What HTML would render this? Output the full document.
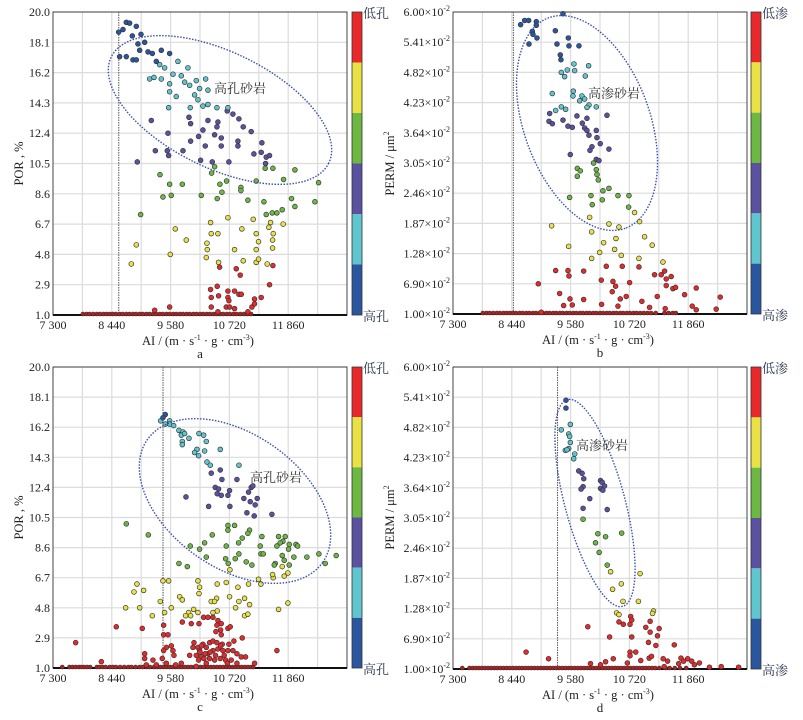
<!DOCTYPE html>
<html><head><meta charset="utf-8">
<style>
html,body{margin:0;padding:0;background:#fff;}
svg{display:block;font-family:"Liberation Serif","Noto Serif CJK SC",serif;}
</style></head>
<body>
<svg id="chart" width="803" height="720" viewBox="0 0 803 720" xmlns="http://www.w3.org/2000/svg"></svg>
<script>
// ---------- data (AI, value) ----------
const aBlue=[[8573,18.74],[8721,19.35],[8786,19.3],[8657,18.9],[8838,18.5],[8915,19.1],[9006,18.6],[9077,18.1],[8947,18.0],[8592,17.2],[8721,17.2],[8850,17.0],[8915,17.0],[8980,17.6],[9142,17.5],[9226,17.4],[9400,17.6],[9561,17.4],[9303,16.9]];
const aCyan=[[9367,16.7],[9464,16.5],[9722,16.9],[9916,16.5],[9174,15.8],[9258,15.9],[9400,15.8],[9561,15.5],[9626,16.1],[9787,16.0],[9852,15.6],[9949,15.4],[10078,15.7],[10142,15.2],[10259,15.8],[10304,15.1],[9561,15.0],[9690,14.7],[10045,14.8],[10110,14.5],[10207,14.1],[10304,14.2],[10478,14.0],[10691,14.0],[9542,14.0],[9961,14.0]];
const aPurple=[[9206,13.2],[9936,13.4],[9968,13.0],[10304,13.2],[10497,13.1],[10478,12.8],[10678,13.8],[10788,13.6],[10904,13.3],[10988,12.8],[11143,12.5],[9529,12.4],[9968,11.9],[10123,12.2],[10207,12.6],[10433,12.3],[10562,12.1],[10562,11.6],[10252,11.6],[10885,11.9],[10885,11.6],[9820,11.3],[9284,11.3],[9516,11.3],[9542,11.0],[10162,10.7],[10388,10.6],[10710,10.6],[11195,11.1],[11350,11.8],[11337,11.2],[11434,10.9],[11498,11.0],[11421,10.5],[8934,10.6]];
const aGreen=[[10433,10.3],[10375,9.9],[11414,10.2],[11563,10.2],[11990,10.1],[9374,9.8],[10665,9.4],[10536,9.2],[9561,9.2],[9807,9.2],[10943,9.0],[10943,8.8],[11240,9.4],[11770,9.5],[12449,9.3],[9432,8.4],[9593,8.5],[10175,8.5],[10575,8.7],[10484,8.3],[11078,8.2],[11389,8.1],[11925,8.3],[11990,7.8],[12378,8.1],[11550,7.4],[11641,7.4],[11744,7.6],[8999,7.3],[11434,7.3]];
const aYellow=[[10691,7.1],[10355,6.8],[11182,7.0],[11518,6.8],[11485,6.5],[11763,6.7],[9671,6.4],[10962,6.4],[10368,6.1],[10497,6.1],[11240,6.1],[11570,6.1],[9884,5.7],[10285,5.5],[11285,5.6],[11557,5.7],[8915,5.4],[10291,5.1],[10820,5.1],[11240,5.1],[11557,5.2],[9574,4.8],[10272,4.6],[10510,4.3],[10988,4.4],[11240,4.3],[11285,4.5],[11453,4.2],[8818,4.2]];
const aRed=[[10530,4.0],[11563,4.1],[10853,3.9],[10930,3.5],[11498,2.9],[10355,2.6],[10484,2.8],[10691,2.5],[10820,2.5],[10904,2.3],[10950,2.3],[10368,2.1],[10510,2.2],[10691,2.1],[10710,1.9],[11207,2.0],[11337,2.1],[10368,1.5],[10659,1.5],[10723,1.5],[10820,1.4],[11156,1.5],[11207,1.7],[9561,1.5],[9271,1.3],[10497,1.2],[11078,1.2]];
const aBase=[7880,7950,8010,8080,8150,8210,8280,8340,8400,8460,8520,8590,8650,8720,8780,8850,8910,8980,9040,9110,9170,9240,9300,9370,9430,9500,9560,9630,9690,9760,9820,9890,9950,10020,10080,10150,10210,10280,10340,10410,10470,10540,10600,10670,10730,10800,10860,10930,11000,11070,11140];

const bBlue=[[8611,5.79],[8689,5.86],[8767,5.86],[8915,5.84],[8915,5.78],[8838,5.68],[8850,5.63],[8928,5.57],[8773,5.47],[9432,5.97],[9284,5.69],[9536,5.57],[9316,5.47],[9548,5.44],[9742,5.44],[9380,5.29],[9393,5.21]];
const bCyan=[[9645,5.14],[9929,5.11],[9516,5.04],[9658,5.03],[9400,5.0],[9464,4.93],[9865,4.94],[9225,4.65],[9632,4.69],[9626,4.61],[9800,4.61],[9755,4.53],[9852,4.56],[9936,4.46],[10078,4.43],[9400,4.43],[9290,4.37],[9484,4.39],[9897,4.42]];
const bPurple=[[9174,4.32],[9703,4.28],[9897,4.24],[10285,4.29],[9161,4.19],[9226,4.15],[9432,4.21],[9529,4.11],[9613,4.09],[9807,4.16],[9852,4.08],[9897,4.04],[10078,4.04],[9936,3.96],[10091,3.92],[10155,3.82],[9994,3.77],[9955,3.71],[10323,3.73],[9574,3.64],[10078,3.56],[10130,3.54]];
const bGreen=[[10026,3.5],[9710,3.41],[9768,3.37],[9710,3.28],[10078,3.39],[10091,3.31],[10117,3.22],[10207,3.04],[10323,3.08],[9975,2.96],[10498,2.96],[10711,2.96],[9561,2.93],[10194,2.89],[10000,2.81],[10705,2.77]];
const bYellow=[[10820,2.68],[9949,2.6],[10917,2.53],[10323,2.49],[10517,2.44],[9212,2.46],[9988,2.36],[10459,2.25],[11014,2.28],[10220,2.18],[11163,2.14],[9542,2.12],[10433,2.07],[10143,2.02],[10562,1.97],[9988,1.92],[10905,1.92],[11370,1.86]];
const bRed=[[9290,1.72],[9529,1.72],[9548,1.63],[9833,1.71],[10272,1.79],[10582,1.79],[10905,1.78],[8954,1.5],[10175,1.56],[10401,1.54],[10452,1.46],[10388,1.37],[10724,1.52],[11208,1.65],[11337,1.65],[11402,1.71],[11434,1.58],[11531,1.62],[11434,1.47],[11563,1.42],[11615,1.44],[12016,1.43],[11790,1.32],[12481,1.28],[9367,1.34],[9568,1.25],[9833,1.24],[10659,1.29],[10543,1.25],[10962,1.21],[11260,1.29],[9445,1.14],[9613,1.15],[10181,1.16],[10498,1.13],[11111,1.11],[11414,1.09],[11938,1.13],[12016,1.07],[12403,1.08],[9012,1.03]];
const bBase=[7880,7950,8010,8080,8150,8210,8280,8340,8400,8460,8520,8590,8650,8720,8780,8850,8910,8980,9040,9110,9170,9240,9300,9370,9430,9500,9560,9630,9690,9760,9820,9890,9950,10020,10080,10150,10210,10280,10340,10410,10470,10540,10600,10670,10730,10800,10860,10930,11000,11070,11140,11230,11400,11480,11560,11620];

const cBlue=[[9477,17.0],[9432,16.8]];
const cCyan=[[9387,16.6],[9477,16.4],[9561,16.6],[9561,16.4],[9639,16.3],[9742,16.0],[9820,15.9],[9787,15.7],[9852,15.8],[9807,15.3],[9807,15.1],[9936,15.5],[10130,15.8],[10220,15.7],[10272,15.3],[10091,14.8],[10045,14.6],[10239,14.7],[10123,14.4],[10543,14.8],[10285,14.0],[10349,13.8],[10905,13.8]];
const cPurple=[[10368,13.3],[10543,13.5],[10866,12.9],[10575,12.9],[10446,12.4],[10510,12.3],[10723,12.2],[11143,12.4],[11175,12.5],[10484,12.0],[10562,11.9],[10691,11.9],[9878,11.8],[11091,12.1],[11000,11.7],[11124,11.5],[11260,11.7],[10317,11.2],[10730,11.2],[11059,10.8],[11220,11.3],[11201,10.6],[11544,10.7]];
const cGreen=[[8721,10.1],[9148,9.4],[10691,10.0],[10820,10.0],[10691,9.7],[11111,9.7],[11078,9.5],[10969,9.2],[10388,9.4],[11350,9.3],[11673,9.3],[11802,9.3],[11757,9.0],[11705,8.9],[11880,8.8],[12010,8.8],[12042,8.7],[10239,8.9],[9961,8.7],[10142,8.5],[10659,8.7],[10898,8.9],[11318,8.7],[11641,8.7],[11867,8.5],[11331,8.2],[11376,8.2],[10904,8.2],[11744,8.1],[11970,8.0],[12222,8.0],[12455,8.2],[12791,8.1],[10272,8.0],[10646,7.9],[10833,7.9],[10697,7.6],[11046,7.7],[11156,7.5],[11783,7.8],[11609,7.6],[11589,7.5],[11880,7.5],[9742,7.6],[9904,7.4],[12578,7.6]];
const cYellow=[[11744,7.4],[11854,7.0],[11783,6.8],[11570,6.7],[11557,6.9],[11285,6.6],[10730,7.2],[9432,6.5],[9542,6.5],[10110,6.5],[11331,6.3],[8928,6.3],[10142,6.1],[10484,6.3],[10659,6.4],[11091,6.3],[10885,6.1],[9057,5.9],[8870,5.8],[10130,5.7],[9755,5.5],[9807,5.3],[10471,5.4],[10368,5.2],[10433,5.2],[10723,5.5],[10904,5.2],[11014,5.4],[9380,5.2],[11111,5.0],[11854,5.1],[8708,4.8],[8980,4.8],[9593,4.8],[10026,4.7],[10840,4.8],[10484,4.6],[10110,4.5],[10401,4.5],[9464,4.5],[9929,4.5],[9871,4.3],[9968,4.3],[9226,4.3],[11673,4.7],[11014,4.3],[11078,4.4]];
const cRed=[[10220,4.2],[9807,3.9],[9981,3.8],[10130,3.8],[10304,4.2],[10401,4.2],[10497,4.0],[10562,3.8],[10478,3.7],[10549,3.4],[10691,3.5],[10736,3.6],[10562,3.1],[10458,3.3],[8527,3.6],[9031,3.5],[9445,3.7],[7739,2.6],[11641,2.1],[9445,3.1],[9529,3.1],
[10033,2.6],[10110,2.3],[10142,2.1],[10207,2.5],[10272,2.3],[10336,2.6],[10401,2.7],[10478,2.6],[10581,2.5],[10710,2.5],[10807,2.7],[10969,2.9],[10013,2.3],[10078,1.8],[10175,1.7],[10304,1.9],[10401,2.1],[10497,2.2],[10594,2.1],[10691,2.1],[10788,2.1],[10866,1.9],[10950,1.7],[11033,1.7],[9949,1.8],[10123,1.5],[10226,1.6],[10336,1.6],[10433,1.5],[10542,1.6],[10646,1.5],[10756,1.5],[10866,1.3],[11208,1.3],[10272,1.3],[10078,1.1],[9077,1.9],[9077,1.6],[9238,1.5],[9419,1.6],[9497,2.3],[9594,2.4],[9626,2.1],[9445,2.1],[9645,1.8],[9497,1.3],[9787,1.3],[9678,1.2],[8237,1.4],[9303,1.2],[9109,1.2],[10180,2.4],[10350,2.0],[10620,1.8],[10250,1.9],[10450,1.8],[10550,2.4],[10150,2.0],[10680,1.3]];
const cBase=[7480,7620,7680,7740,7800,7850,7900,7960,8020,8150,8200,8260,8320,8400,8460,8520,8600,8680,8760,8820,8900,8980,9040,9120,9180,9260,9320,9380,9440,9500,9560,9620,9680,9740,9800,9860,9920,9980,10040,10100,10160,10220,10300,10360,10420,10480,10540,10600,10660,10720,10780,10840,10900,10960,11020,11080,11140,11180];

const dBlue=[[9490,5.45],[9490,5.32]];
const dCyan=[[9575,5.05],[9400,4.96],[9543,4.89],[9562,4.85],[9575,4.75],[9543,4.65],[9478,4.62],[9510,4.63],[9660,4.56],[9640,4.48]];
const dPurple=[[9738,4.28],[9803,4.24],[9835,4.15],[9822,4.02],[9783,3.98],[10160,4.12],[10193,4.09],[10238,4.03],[10160,3.99],[10205,3.96],[9952,3.82],[9822,3.66],[10290,3.64]];
const dGreen=[[9822,3.48],[10108,3.24],[10258,3.19],[10570,3.25],[10063,3.09],[10134,2.93],[10290,2.72]];
const dYellow=[[10355,2.61],[10927,2.58],[10563,2.41],[10394,2.32],[10596,2.12],[10895,2.12],[10472,1.93],[10518,1.9],[11187,1.96],[11168,1.92]];
const dRed=[[10745,1.87],[10518,1.78],[10602,1.74],[10765,1.81],[10732,1.74],[11122,1.79],[11037,1.69],[11297,1.67],[9913,1.7],[11122,1.61],[11265,1.55],[10336,1.53],[10765,1.53],[11090,1.44],[11233,1.39],[11590,1.4],[8717,1.28],[9153,1.17],[10732,1.28],[10843,1.28],[10732,1.22],[10407,1.17],[9965,1.09],[10160,1.07],[10258,1.12],[10680,1.1],[10940,1.14],[11103,1.18],[11148,1.21],[11375,1.17],[11460,1.13],[11395,1.04],[11720,1.18],[11850,1.17],[11772,1.13],[11675,1.09],[11928,1.13],[11980,1.07],[12077,1.1],[12272,1.03],[12500,1.04],[12838,1.03]];
const dBase=[7480,7620,7680,7740,7800,7860,7920,7980,8040,8100,8160,8220,8280,8340,8400,8460,8520,8580,8640,8700,8760,8820,8880,8940,9000,9060,9120,9180,9240,9300,9360,9420,9480,9540,9600,9660,9720,9780,9840,9900,9960,10020,10080,10140,10200,10260,10320,10380,10440,10500,10560,10620,10680,10740,10800,10860,10920,10980,11040,11100,11160,11220,11300,11420,11500,11600,11700,11820];

const xTickVals=[7300,8440,9580,10720,11860];
const xTickLabels=["7 300","8 440","9 580","10 720","11 860"];
const porTickVals=[20.0,18.1,16.2,14.3,12.4,10.5,8.6,6.7,4.8,2.9,1.0];
const porTickLabels=["20.0","18.1","16.2","14.3","12.4","10.5","8.6","6.7","4.8","2.9","1.0"];
const permTickVals=[6.0,5.5,5.0,4.5,4.0,3.5,3.0,2.5,2.0,1.5,1.0];
const permTickMant=["6.00","5.41","4.82","4.23","3.64","3.05","2.46","1.87","1.28","6.90","1.00"];
const cbarColors=["#e8282b","#e8e245","#6cb842","#5a52a0","#5fc6cf","#2a56a0"];

const svg=document.getElementById('chart');
const NS='http://www.w3.org/2000/svg';
function mk(tag,attrs,parent){const e=document.createElementNS(NS,tag);for(const k in attrs)e.setAttribute(k,attrs[k]);(parent||svg).appendChild(e);return e;}

function panel(p){
  const g=mk('g',{});
  
  
  const xs=v=>p.x0+(v-7300)/(13000-7300)*(p.x1-p.x0);
  const ys=v=>p.y1-(v-p.ymin)/(p.ymax-p.ymin)*(p.y1-p.y0);
  for(let v=7870;v<13000;v+=570){const l=mk('line',{x1:xs(v),x2:xs(v),y1:p.y0,y2:p.y1,stroke:'#dcdcdc','stroke-width':1.2},g);}
  p.tv.forEach(v=>{const l=mk('line',{x1:p.x0,x2:p.x1,y1:ys(v),y2:ys(v),stroke:'#dcdcdc','stroke-width':1.2},g);});
  const fr=mk('rect',{x:p.x0,y:p.y0,width:p.x1-p.x0,height:p.y1-p.y0,fill:'none',stroke:'#444','stroke-width':1},g);
  
  const ax=mk('line',{x1:p.x0,x2:p.x1,y1:p.y1,y2:p.y1,stroke:'#111','stroke-width':2},g);
  
  const dl=mk('line',{x1:xs(p.cut),x2:xs(p.cut),y1:p.y0,y2:p.y1,stroke:'#555','stroke-width':1,'stroke-dasharray':'1.5,1'},g);
  
  p.tv.forEach((v,i)=>{
    const t=mk('text',{x:p.x0-3,y:ys(v)+4,'text-anchor':'end','font-size':12,fill:'#222'},g);
    
    if(p.perm){t.textContent=p.tl[i]+'×10';const s=mk('tspan',{dy:-5,'font-size':8},t);s.textContent='-2';}
    else t.textContent=p.tl[i];
  });
  xTickVals.forEach((v,i)=>{
    const t=mk('text',{x:xs(v),y:p.y1+14,'text-anchor':'middle','font-size':12,fill:'#222'},g);
    
    t.textContent=xTickLabels[i];
  });
  p.base.forEach(v=>{const c=mk('circle',{cx:xs(v),cy:p.y1-1,r:2,fill:'#b02020',stroke:'#333','stroke-width':0.6},g);});
  const sets=[[p.red,cbarColors[0]],[p.yellow,cbarColors[1]],[p.green,cbarColors[2]],[p.purple,cbarColors[3]],[p.cyan,cbarColors[4]],[p.blue,cbarColors[5]]];
  sets.forEach(([arr,col])=>arr.forEach(d=>{
    const c=mk('circle',{cx:xs(d[0]),cy:ys(d[1]),r:2.4,fill:col,stroke:'#333','stroke-width':0.7},g);
    
  }));
  const el=mk('ellipse',{cx:p.el[0],cy:p.el[1],rx:p.el[2],ry:p.el[3],transform:`rotate(${p.el[4]} ${p.el[0]} ${p.el[1]})`,fill:'none',stroke:'#3a50b0','stroke-width':1.4,'stroke-dasharray':'1.5,1.5'},g);
  
  const zl=mk('text',{x:p.zl[0],y:p.zl[1],'font-size':13,fill:'#333','font-family':'"Noto Serif CJK SC","Noto Sans CJK SC",serif'},g);
  
  zl.textContent=p.perm?'高渗砂岩':'高孔砂岩';
  const bh=(p.y1-p.y0)/6;
  cbarColors.forEach((c,i)=>{const r=mk('rect',{x:p.cb,y:p.y0+i*bh,width:10,height:bh,fill:c},g);});
  const cf=mk('rect',{x:p.cb,y:p.y0,width:10,height:p.y1-p.y0,fill:'none',stroke:'#333','stroke-width':0.8},g);
  
  const ct=mk('text',{x:p.cb+11,y:p.y0+6,'font-size':13,fill:'#2c3550','font-family':'"Noto Serif CJK SC",serif'},g);
  
  ct.textContent=p.perm?'低渗':'低孔';
  const cbt=mk('text',{x:p.cb+11,y:p.y1+6,'font-size':13,fill:'#2c3550','font-family':'"Noto Serif CJK SC",serif'},g);
  
  cbt.textContent=p.perm?'高渗':'高孔';
  const xt=mk('text',{x:(p.x0+p.x1)/2-2,y:p.y1+30,'text-anchor':'middle','font-size':12.5,fill:'#222'},g);
  
  xt.innerHTML='AI / (m · s<tspan dy="-5" font-size="8">-1</tspan><tspan dy="5"> · g · cm</tspan><tspan dy="-5" font-size="8">-3</tspan><tspan dy="5">)</tspan>';
  const pl=mk('text',{x:(p.x0+p.x1)/2,y:p.y1+43,'text-anchor':'middle','font-size':13,fill:'#222'},g);
  
  pl.textContent=p.id;
  if(!p.perm){
    const yt=mk('text',{x:0,y:0,transform:`translate(${p.ytx} ${(p.y0+p.y1)/2}) rotate(-90)`,'text-anchor':'middle','font-size':12.5,fill:'#222'},g);
    
    yt.textContent='POR , %';
    const rt=mk('text',{x:0,y:0,transform:`translate(394 ${(p.y0+p.y1)/2}) rotate(-90)`,'text-anchor':'middle','font-size':12.5,fill:'#222'},g);
    
    rt.innerHTML='PERM / μm<tspan dy="-5" font-size="8">2</tspan>';
  }
}

panel({id:'a',x0:53,x1:347,y0:12,y1:315,ymin:1,ymax:20,tv:porTickVals,tl:porTickLabels,perm:false,cut:8575,cb:352,ytx:23,
  blue:aBlue,cyan:aCyan,purple:aPurple,green:aGreen,yellow:aYellow,red:aRed,base:aBase,el:[220,110,121,58,26],zl:[214,93]});
panel({id:'b',x0:453,x1:747,y0:12,y1:314,ymin:1,ymax:6,tv:permTickVals,tl:permTickMant,perm:true,cut:8470,cb:751,ytx:417,
  blue:bBlue,cyan:bCyan,purple:bPurple,green:bGreen,yellow:bYellow,red:bRed,base:bBase,el:[587,123,112,63,70],zl:[588,98]});
panel({id:'c',x0:53,x1:347,y0:367,y1:668,ymin:1,ymax:20,tv:porTickVals,tl:porTickLabels,perm:false,cut:9433,cb:352,ytx:23,
  blue:cBlue,cyan:cCyan,purple:cPurple,green:cGreen,yellow:cYellow,red:cRed,base:cBase,el:[235,501,107,67,35],zl:[250,482]});
panel({id:'d',x0:453,x1:747,y0:367,y1:669,ymin:1,ymax:6,tv:permTickVals,tl:permTickMant,perm:true,cut:9327,cb:751,ytx:417,
  blue:dBlue,cyan:dCyan,purple:dPurple,green:dGreen,yellow:dYellow,red:dRed,base:dBase,el:[595,503,107,30,75],zl:[576,450]});
</script>
</body></html>
